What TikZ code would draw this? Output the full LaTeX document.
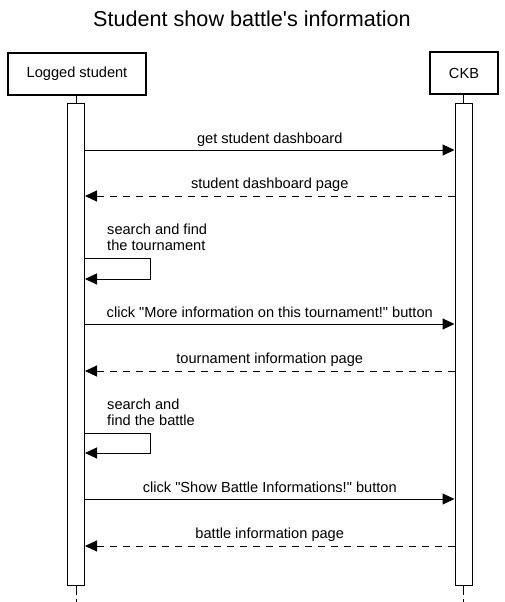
\documentclass[tikz,border=0pt]{standalone}
\usepackage{fontspec}
\newfontfamily\lib{Liberation Sans}
\usetikzlibrary{arrows.meta}
\begin{document}
\begin{tikzpicture}[x=1pt,y=-1pt,
  lbl/.style={font=\lib\fontsize{14.6}{16}\selectfont, inner sep=0pt, anchor=base},
  slbl/.style={font=\lib\fontsize{14.6}{16}\selectfont, inner sep=0pt, anchor=base west},
  actorbox/.style={draw=black, line width=2pt, fill=white, minimum height=42pt, inner sep=0pt, font=\lib\fontsize{14.6}{16}\selectfont},
  bar/.style={draw=black, line width=1pt, fill=white, minimum width=17pt, minimum height=482pt, inner sep=0pt},
  msg/.style={line width=1pt, -{Triangle[length=12pt,width=11pt]}},
  ret/.style={msg, dash pattern=on 7pt off 6pt},
  life/.style={line width=1pt},
  lifedash/.style={line width=1pt, dash pattern=on 9pt off 4pt}
]
\useasboundingbox (0,0) rectangle (504,602);
\node[font=\lib\fontsize{21.6}{24}\selectfont, anchor=base, inner sep=0pt] (title) at (252,27) {Student show battle's information};
\node[actorbox, minimum width=138pt] (A) at (77,74) {Logged student};
\node[actorbox, minimum width=68pt] (B) at (464,73) {CKB};
\node[bar] (barA) at (76,344.5) {};
\node[bar] (barB) at (463.5,344.5) {};
\coordinate (endA) at (76,602);
\coordinate (endB) at (463.5,602);
\draw[life] (barA.north |- A.south) -- (barA.north);
\draw[life] (barB.north |- B.south) -- (barB.north);
\draw[lifedash] (barA.south) -- (endA);
\draw[lifedash] (barB.south) -- (endB);
% y levels
\coordinate (m1) at (0,150);
\coordinate (m2) at (0,196);
\coordinate (s1) at (0,258);
\coordinate (s1b) at (0,279);
\coordinate (m4) at (0,324);
\coordinate (m5) at (0,371);
\coordinate (s2) at (0,433);
\coordinate (s2b) at (0,453);
\coordinate (m7) at (0,499);
\coordinate (m8) at (0,546);
\coordinate (loopx) at (150,0);
% messages
\draw[msg] (barA.east |- m1) -- node[lbl, pos=0.5, yshift=7pt] (l1) {get student dashboard} (barB.west |- m1);
\draw[ret] (barB.west |- m2) -- node[lbl, pos=0.5, yshift=8pt] (l2) {student dashboard page} (barA.east |- m2);
\node[slbl] (l3a) at (107,234) {search and find};
\node[slbl] (l3b) at (107,250) {the tournament};
\draw[msg] (barA.east |- s1) -- (loopx |- s1) -- (loopx |- s1b) -- (barA.east |- s1b);
\draw[msg] (barA.east |- m4) -- node[lbl, pos=0.5, yshift=7pt] (l4) {click "More information on this tournament!" button} (barB.west |- m4);
\draw[ret] (barB.west |- m5) -- node[lbl, pos=0.5, yshift=8pt] (l5) {tournament information page} (barA.east |- m5);
\node[slbl] (l6a) at (107,409) {search and};
\node[slbl] (l6b) at (107,425) {find the battle};
\draw[msg] (barA.east |- s2) -- (loopx |- s2) -- (loopx |- s2b) -- (barA.east |- s2b);
\draw[msg] (barA.east |- m7) -- node[lbl, pos=0.5, yshift=7pt] (l7) {click "Show Battle Informations!" button} (barB.west |- m7);
\draw[ret] (barB.west |- m8) -- node[lbl, pos=0.5, yshift=8pt] (l8) {battle information page} (barA.east |- m8);
\end{tikzpicture}
\end{document}
